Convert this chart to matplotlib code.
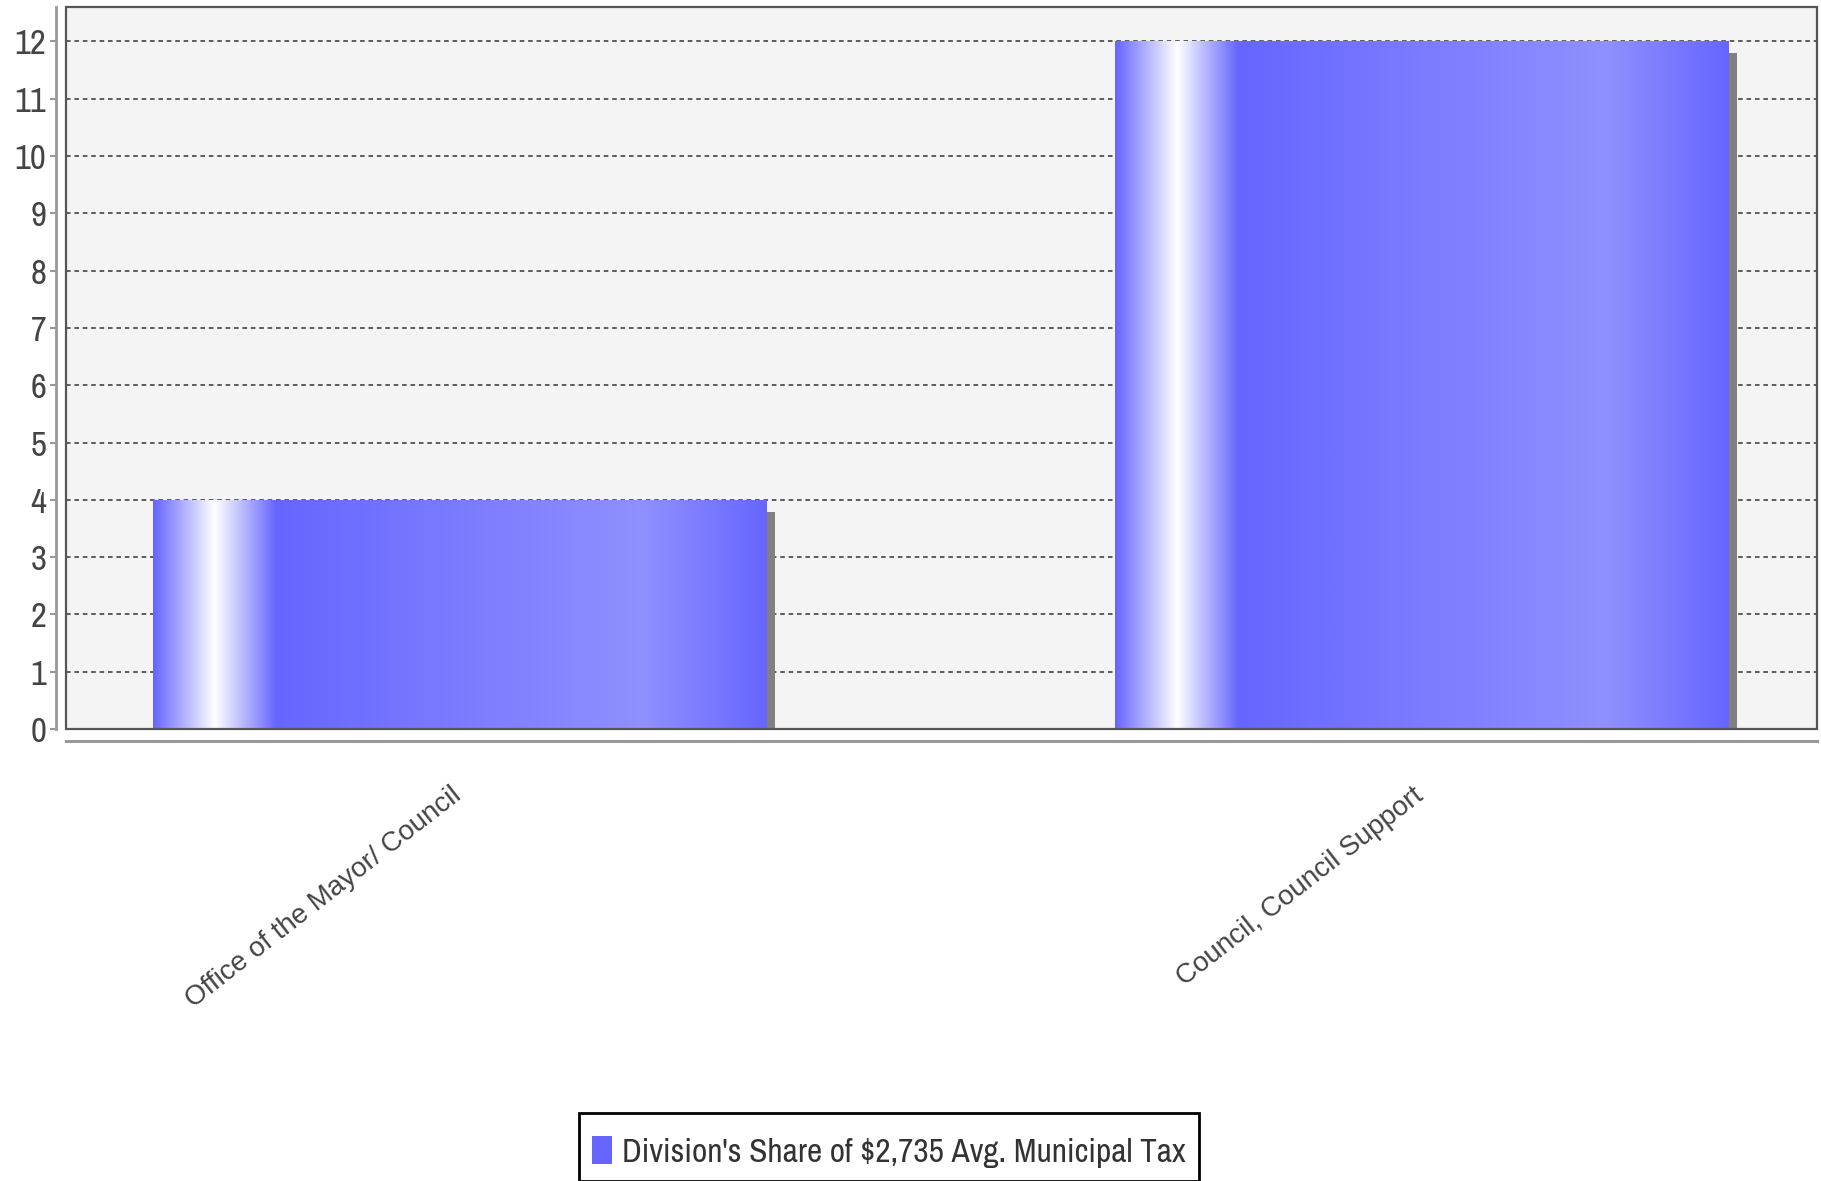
import numpy as np
import matplotlib.pyplot as plt
from matplotlib.patches import Rectangle
from matplotlib.colors import to_rgb
from matplotlib import font_manager
import matplotlib.transforms as mtransforms

categories = ['Office of the Mayor/ Council', 'Council, Council Support']
values = [4, 12]
series_name = "Division's Share of $2,735 Avg. Municipal Tax"
yticks = list(range(0, 13))

base = '#6666ff'
bright = '#9090ff'


def find_narrow():
    # look for a narrow / condensed sans face, the chart text is compressed
    best = None
    for f in font_manager.fontManager.ttflist:
        nm = f.name.lower()
        if f.style != 'normal' or f.weight not in (400, 'normal', 'regular'):
            continue
        if 'narrow' in nm or 'narrow' in f.fname.lower():
            return f.fname
        if f.stretch in ('condensed', 'semi-condensed') and 'sans' in nm and 'mono' not in nm:
            best = best or f.fname
    return best


narrow_file = find_narrow()


def narrow_props(size):
    if narrow_file:
        return font_manager.FontProperties(fname=narrow_file, size=size)
    return font_manager.FontProperties(family='Liberation Sans', size=size * 0.87)


def gradient_strip(n=400):
    # gradient across the bar: base -> white -> base -> bright -> base
    c0 = np.array(to_rgb(base))
    c1 = np.array(to_rgb(bright))
    w = np.ones(3)
    stops = [0.0, 0.10, 0.20, 0.80, 1.0]
    cols = [c0, w, c0, c1, c0]
    t = np.linspace(0, 1, n)
    out = np.zeros((1, n, 3))
    for k in range(3):
        out[0, :, k] = np.interp(t, stops, [c[k] for c in cols])
    return out


fig = plt.figure(figsize=(18.21, 11.81), dpi=100)
ax = fig.add_axes([0.0362, 0.3827, 0.9618, 0.6113])
ax.set_facecolor('#f4f4f4')

x = np.arange(len(categories))
width = 0.637

# shadow bars, offset a few pixels right and down
shadow_tr = mtransforms.offset_copy(ax.transData, fig=fig, x=9, y=-12, units='dots')
ax.bar(x, values, width=width, color='#808080', transform=shadow_tr, zorder=2)

bars = ax.bar(x, values, width=width, color=base, zorder=3, label=series_name)
strip = gradient_strip()
for b in bars:
    im = ax.imshow(strip, extent=[b.get_x(), b.get_x() + b.get_width(), 0, b.get_height()],
                   aspect='auto', interpolation='bilinear', zorder=3.5)
    im.set_clip_path(b)

ax.set_xlim(-0.409, 1.411)
ax.set_ylim(0, 12.6)

ax.set_yticks(yticks)
ax.yaxis.grid(True, color='#333333', linestyle=(0, (3, 2.5)), linewidth=1.1, zorder=1)
ax.set_axisbelow(True)

for s in ['top', 'right']:
    ax.spines[s].set_visible(False)
ax.spines['left'].set_position(('outward', 7))
ax.spines['bottom'].set_position(('outward', 8.4))
ax.spines['left'].set_color('#999999')
ax.spines['bottom'].set_color('#999999')
ax.spines['left'].set_linewidth(2)
ax.spines['bottom'].set_linewidth(2.2)

ax.tick_params(axis='y', length=4, width=1.5, color='#999999', pad=3,
               labelcolor='#444444')
for lab in ax.get_yticklabels():
    lab.set_fontproperties(narrow_props(25))

ax.set_xticks(x)
ax.set_xticklabels(categories, rotation=38, ha='right', va='top',
                   rotation_mode='anchor', fontsize=20, color='#444444',
                   family=['Liberation Sans', 'DejaVu Sans'])
ax.tick_params(axis='x', length=0, pad=30)
shift = mtransforms.ScaledTranslation(-9 / 100, 0, fig.dpi_scale_trans)
for lab in ax.get_xticklabels():
    lab.set_transform(lab.get_transform() + shift)

# plot area outline
ax.add_patch(Rectangle((0, 0), 1, 1, transform=ax.transAxes, fill=False,
                       edgecolor='#555555', linewidth=1.6, clip_on=False, zorder=5))

# a tiny blank title pushes the entry down, the box runs off the bottom edge
leg = fig.legend(handles=[bars], labels=[series_name], loc='upper center',
                 bbox_to_anchor=(0.488, 0.0576), frameon=True, fancybox=False,
                 edgecolor='black', framealpha=1, handlelength=0.6, handleheight=0.9,
                 handletextpad=0.3, borderpad=0.4, borderaxespad=0,
                 title=' ', title_fontsize=7, labelspacing=0,
                 prop=narrow_props(24))
leg.get_frame().set_linewidth(2)
for t in leg.get_texts():
    t.set_color('#333333')

fig.savefig('out.png', dpi=100)
